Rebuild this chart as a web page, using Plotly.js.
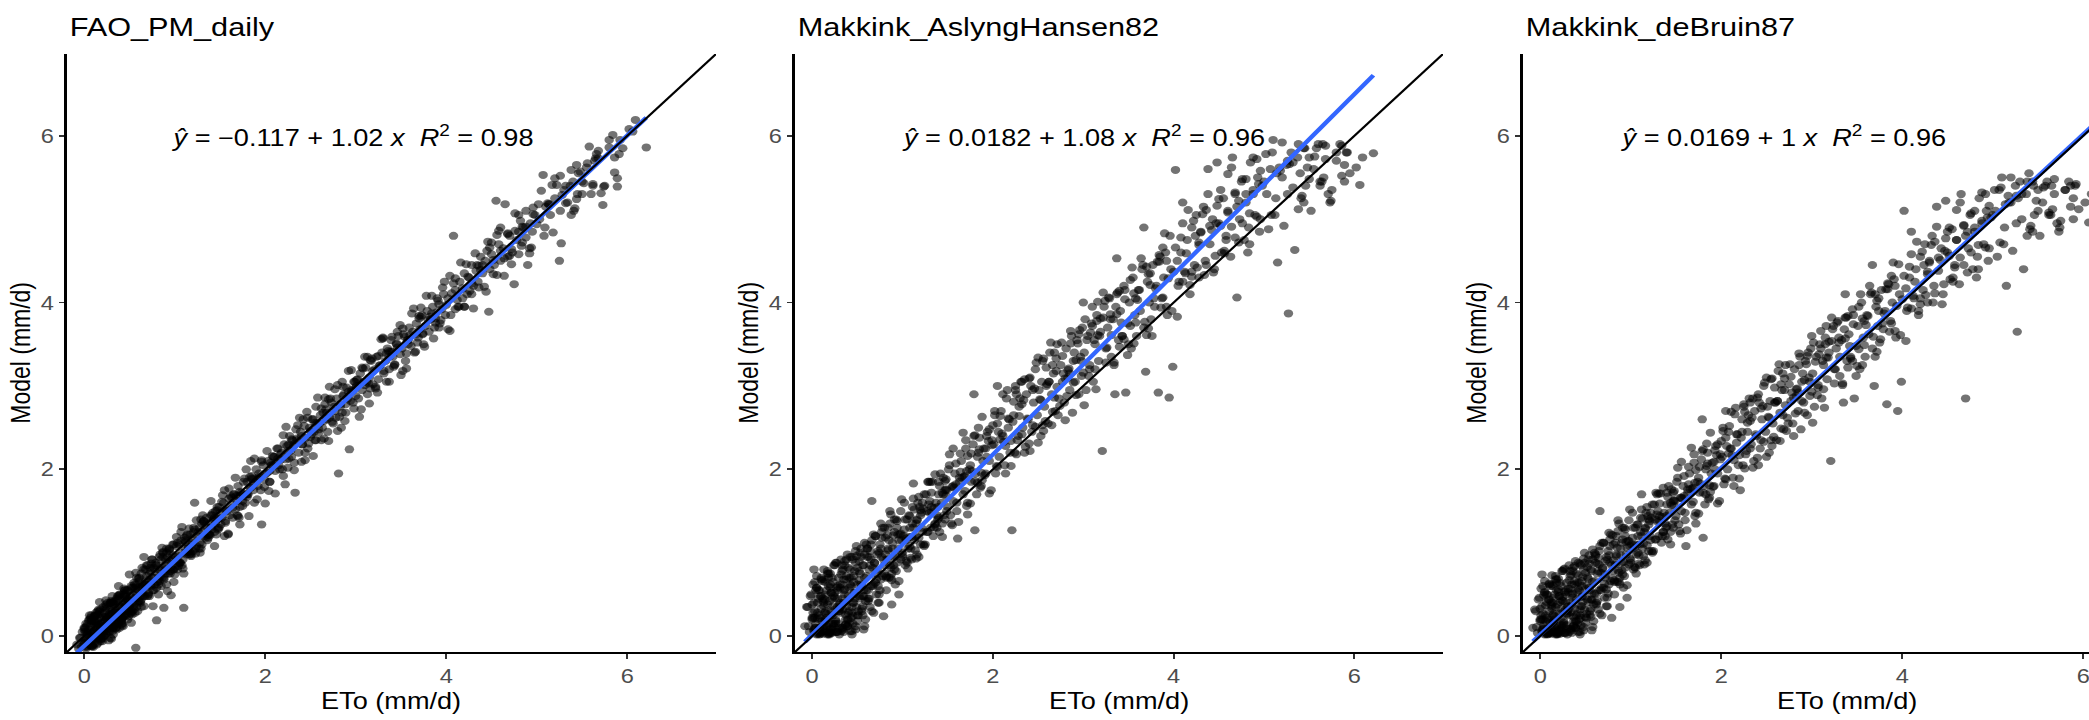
<!DOCTYPE html>
<html>
<head>
<meta charset="utf-8">
<script src="https://cdn.plot.ly/plotly-3.0.1.min.js"></script>
<style>
html,body{margin:0;padding:0;background:#fff;overflow:hidden;width:2089px;height:720px;}
#wrap{position:relative;width:2089px;height:720px;overflow:hidden;}
#chart{position:absolute;left:0;top:0;transform-origin:0 0;}
</style>
</head>
<body>
<div id="wrap"><div id="chart"></div></div>
<script>
// ---------------- data ----------------
const panelTitles = ["FAO_PM_daily", "Makkink_AslyngHansen82", "Makkink_deBruin87"];
const xAxisTitle = "ETo (mm/d)";
const yAxisTitle = "Model (mm/d)";
const xTicks = [0, 2, 4, 6];
const yTicks = [0, 2, 4, 6];

// reference ETo (x, shared by all panels)
const eto = [
-0.08,-0.05,-0.03,-0.02,0.00,0.01,0.02,0.03,0.04,0.05,
0.05,0.06,0.07,0.08,0.08,0.09,0.10,0.10,0.11,0.12,
0.12,0.13,0.13,0.14,0.15,0.15,0.16,0.17,0.17,0.18,
0.18,0.19,0.20,0.20,0.21,0.21,0.22,0.23,0.23,0.24,
0.25,0.25,0.26,0.27,0.27,0.28,0.29,0.29,0.30,0.31,
0.31,0.32,0.33,0.33,0.34,0.35,0.35,0.36,0.37,0.38,
0.38,0.39,0.40,0.40,0.41,0.42,0.43,0.43,0.44,0.45,
0.45,0.46,0.47,0.48,0.48,0.49,0.50,0.51,0.52,0.53,
0.06,0.11,0.16,0.19,0.22,0.26,0.28,0.32,0.34,0.36,
0.39,0.41,0.44,0.46,0.03,0.09,0.14,0.24,0.30,0.37,
0.54,0.55,0.56,0.57,0.58,0.59,0.60,0.61,0.62,0.63,
0.64,0.65,0.66,0.67,0.68,0.69,0.70,0.71,0.72,0.73,
0.74,0.75,0.76,0.77,0.78,0.79,0.80,0.81,0.82,0.83,
0.84,0.85,0.86,0.87,0.88,0.89,0.90,0.91,0.92,0.93,
0.94,0.95,0.96,0.97,0.98,0.99,0.57,0.66,0.74,0.88,
1.01,1.03,1.05,1.06,1.08,1.10,1.11,1.13,1.15,1.17,
1.18,1.20,1.22,1.24,1.25,1.27,1.29,1.31,1.32,1.34,
1.36,1.38,1.40,1.41,1.43,1.45,1.47,1.49,1.50,1.52,
1.54,1.56,1.58,1.60,1.61,1.63,1.65,1.67,1.69,1.70,
1.72,1.74,1.76,1.78,1.80,1.81,1.83,1.85,1.87,1.89,
1.90,1.92,1.94,1.96,1.98,1.99,1.04,1.12,1.21,1.30,
1.39,1.48,1.57,1.66,1.75,1.84,1.93,1.16,1.44,1.71,
2.01,2.03,2.05,2.07,2.09,2.11,2.13,2.15,2.17,2.19,
2.21,2.23,2.25,2.27,2.29,2.31,2.33,2.35,2.37,2.39,
2.41,2.43,2.45,2.47,2.49,2.51,2.53,2.55,2.57,2.59,
2.61,2.63,2.65,2.67,2.69,2.71,2.73,2.75,2.77,2.79,
2.81,2.83,2.85,2.87,2.89,2.91,2.93,2.95,2.97,2.99,
2.06,2.18,2.30,2.42,2.54,2.66,2.78,2.90,2.24,2.60,
3.01,3.03,3.05,3.07,3.09,3.11,3.13,3.15,3.17,3.19,
3.21,3.23,3.25,3.27,3.29,3.31,3.33,3.35,3.37,3.39,
3.41,3.43,3.45,3.47,3.49,3.51,3.53,3.55,3.57,3.59,
3.61,3.63,3.65,3.67,3.69,3.71,3.73,3.75,3.77,3.79,
3.81,3.83,3.85,3.87,3.89,3.91,3.93,3.95,3.97,3.99,
3.12,3.36,3.58,3.74,3.92,
4.02,4.05,4.08,4.10,4.13,4.15,4.18,4.20,4.23,4.25,
4.28,4.30,4.33,4.35,4.38,4.40,4.43,4.45,4.48,4.50,
4.53,4.55,4.58,4.60,4.63,4.65,4.68,4.70,4.73,4.75,
4.78,4.80,4.83,4.85,4.88,4.90,4.93,4.95,4.98,4.47,
5.03,5.07,5.10,5.15,5.20,5.25,5.27,5.30,5.34,5.37,
5.40,5.45,5.46,5.50,5.55,5.60,5.64,5.71,5.73,5.84,
5.89,5.91,6.06,6.09,6.21,
1.79,2.05,2.32,3.00,3.37,3.67,
0.02,0.04,0.07,0.09,0.11,0.13,0.15,0.16,0.18,0.20,
0.22,0.24,0.26,0.28,0.30,0.32,0.34,0.36,0.38,0.40,
0.42,0.44,0.46,0.48,0.50,0.52,0.54,0.56,0.58,0.60,
0.01,0.05,0.08,0.12,0.14,0.17,0.19,0.21,0.25,0.27,
0.29,0.33,0.35,0.39,0.41,0.43,0.47,0.49,0.51,0.55,
0.57,0.59,0.03,0.06,0.10,0.15,0.18,0.23,0.28,0.31,
0.34,0.37,0.42,0.45,0.50,0.53,0.56,0.58,-0.06,-0.04,
-0.01,0.00,0.02,0.08,0.13,0.20,0.26,0.35,0.44,0.52,
0.61,0.63,0.65,0.68,0.70,0.72,0.75,0.77,0.79,0.82,
0.84,0.86,0.89,0.91,0.93,0.96,0.98,1.00,1.02,1.05,
1.07,1.09,1.12,1.14,1.16,1.19,1.21,1.23,1.26,1.28,
1.30,1.33,1.35,1.37,1.40,1.42,1.44,1.47,1.49,0.62,
0.67,0.71,0.76,0.80,0.85,0.90,0.94,0.99,1.03,1.08,
1.13,1.18,1.22,1.27,1.32,1.36,1.41,1.46,0.64,0.73,
0.81,0.87,0.95,1.04,1.11,1.20,1.29,1.38,1.45,1.48,
1.51,1.53,1.56,1.59,1.62,1.64,1.67,1.69,1.72,1.75,
1.77,1.80,1.82,1.85,1.88,1.91,1.93,1.96,1.99,2.02,
2.04,2.08,2.12,2.16,2.20,2.22,2.26,2.28,2.32,2.36,
2.40,2.44,2.46,2.50,2.52,2.56,2.58,2.62,2.64,2.68,
2.70,2.72,2.76,2.80,2.82,2.86,2.88,2.92,2.94,2.98,
1.55,1.70,1.86,2.00,2.14,2.34,2.48,2.66,2.84,2.96,
3.02,3.06,3.10,3.14,3.18,3.22,3.26,3.30,3.34,3.38,
3.42,3.46,3.50,3.54,3.58,3.62,3.66,3.70,3.74,3.78,
3.82,3.86,3.90,3.94,3.98,4.02,4.06,4.10,4.14,4.18,
4.22,4.26,4.30,4.34,4.38,4.42,4.46,3.08,3.24,3.40,
3.56,3.72,3.88,4.04,4.20,4.36,3.16,3.52,3.84,4.28,
4.52,4.56,4.60,4.64,4.68,4.72,4.76,4.80,4.84,4.88,
4.92,4.96,5.00,5.05,5.09,5.13,5.18,5.22,5.28,5.32,
5.38,5.42,5.48,5.52,5.58,5.62,5.68,5.75,5.80,5.95,
4.58,4.70,4.82,4.94,5.12,5.26,5.44,5.66,5.86,6.02,
0.00,0.02,0.04,0.06,0.08,0.10,0.12,0.14,0.16,0.18,
0.20,0.22,0.24,0.26,0.28,0.30,0.32,0.34,0.36,0.38,
0.40,0.42,0.44,0.46,0.48,0.50,0.52,0.54,0.56,0.58,
0.60,0.62,0.64,0.66,0.68,0.70,0.72,0.74,0.76,0.78,
0.01,0.05,0.09,0.13,0.17,0.21,0.25,0.29,0.33,0.37,
0.41,0.45,0.49,0.53,0.57,0.61,0.65,0.69,0.73,0.77,
0.03,0.07,0.11,0.19,0.23,0.31,0.39,0.47,0.55,0.63,
0.80,0.82,0.84,0.86,0.88,0.90,0.92,0.94,0.96,0.98,
1.00,1.02,1.04,1.06,1.08,1.10,1.12,1.14,1.16,1.18,
1.20,1.24,1.28,1.32,1.36,1.40,1.44,1.48,1.52,1.56,
1.60,1.64,1.68,1.72,1.76,1.80,1.84,1.88,1.92,1.96,
0.83,0.91,0.99,1.07,1.15,1.23,1.31,1.39,1.47,1.55,
1.63,1.71,1.79,1.87,1.95,0.87,1.09,1.35,1.59,1.83,
2.02,2.05,2.08,2.11,2.14,2.17,2.20,2.23,2.26,2.29,
2.32,2.35,2.38,2.41,2.44,2.47,2.50,2.53,2.56,2.59,
2.62,2.65,2.68,2.71,2.74,2.77,2.80,2.83,2.86,2.89,
2.92,2.95,2.98,3.01,3.04,3.07,3.10,3.13,3.16,3.19,
3.22,3.25,3.28,3.31,3.34,3.37,3.40,3.43,3.46,3.49,
2.10,2.40,2.70,3.00,3.30,2.25,2.55,2.85,3.15,3.45,
3.52,3.56,3.60,3.64,3.68,3.72,3.76,3.80,3.84,3.88,
3.92,3.96,4.00,4.04,4.08,4.12,4.16,4.20,4.24,4.28,
4.32,4.36,4.40,4.44,4.48,4.52,4.56,4.60,4.64,4.68,
4.72,4.76,4.80,4.84,4.88,4.92,4.96,3.70,4.10,4.50,
5.02,5.08,5.14,5.20,5.26,5.32,5.38,5.44,5.50,5.56,
5.62,5.68,5.74,5.80,5.86,5.92,5.17,5.41,5.65,5.89
];

// model values (y) per panel
const faoPmDaily = [
-0.10,-0.02,-0.12,0.05,-0.08,0.10,-0.05,0.02,0.15,-0.06,
0.08,-0.10,0.12,0.00,0.20,-0.04,0.06,-0.13,0.18,0.03,
0.25,-0.02,0.10,0.07,0.30,-0.08,0.14,0.02,0.22,0.09,
-0.03,0.16,0.28,0.05,0.12,0.35,0.01,0.19,0.10,0.24,
0.08,0.33,0.15,-0.05,0.21,0.27,0.12,0.40,0.18,0.06,
0.30,0.22,0.14,0.38,0.25,0.10,0.32,0.45,0.20,0.28,
0.16,0.36,0.26,0.50,0.30,0.22,0.40,0.12,0.34,0.48,
0.26,0.38,0.30,0.55,0.20,0.42,0.35,0.28,0.58,0.40,
0.00,0.15,-0.02,0.26,0.05,0.18,0.32,0.02,0.42,0.08,
0.50,0.15,0.24,0.36,0.12,-0.11,0.20,0.03,0.27,0.44,
0.50,0.38,0.62,0.45,0.70,0.30,0.55,0.66,0.42,0.75,
0.52,0.60,0.80,0.48,0.58,0.72,0.85,0.50,0.65,0.78,
0.60,0.92,0.55,0.70,0.62,0.88,0.19,0.75,0.68,0.95,
0.72,0.60,0.82,1.00,0.70,0.85,0.78,0.62,0.95,0.88,
1.05,0.75,0.49,0.92,0.80,1.10,-0.14,0.95,0.66,0.34,
0.95,0.80,1.10,0.88,1.00,0.34,1.15,0.98,1.05,1.22,
1.00,1.12,1.60,1.08,1.20,1.30,1.05,1.25,1.38,1.18,
1.30,1.22,1.45,1.28,1.40,1.35,1.55,1.30,1.48,1.42,
1.60,1.38,1.50,1.65,1.45,1.58,1.70,1.52,1.62,1.80,
1.55,1.72,1.68,1.60,1.85,1.70,1.78,1.92,1.75,1.85,
2.00,1.80,1.90,1.34,2.05,1.88,0.88,1.05,1.25,1.10,
1.36,1.28,1.52,1.70,1.62,1.78,1.95,1.02,1.42,1.68,
1.95,2.10,1.85,2.05,2.15,1.98,2.25,2.05,2.18,2.00,
2.30,2.12,2.22,2.40,2.15,2.28,1.72,2.35,2.20,2.45,
2.30,2.52,2.38,2.25,2.50,2.42,2.60,2.35,2.55,2.48,
2.65,2.50,2.58,2.72,2.45,2.62,2.80,2.55,2.70,2.85,
1.95,2.75,2.68,2.90,2.78,2.85,2.24,2.95,2.80,3.05,
2.08,2.20,2.35,2.60,2.45,2.78,2.62,2.98,2.28,2.55,
3.00,2.85,3.15,2.95,3.05,3.22,2.90,3.10,3.30,3.02,
3.20,3.35,3.08,3.25,3.40,3.15,3.30,3.45,3.20,3.55,
3.35,3.25,3.50,3.60,3.38,3.45,3.62,3.30,3.55,3.70,
3.48,3.65,3.40,3.75,3.58,3.68,3.85,3.50,3.72,3.90,
3.65,3.80,3.95,3.70,3.88,4.02,3.75,3.92,4.10,3.85,
3.05,3.42,3.50,3.62,3.98,
4.05,3.85,4.80,4.15,3.95,4.25,4.05,4.35,4.10,4.30,
4.45,4.20,4.38,4.25,4.55,4.35,4.50,4.62,4.40,4.58,
4.45,5.22,4.70,4.50,4.65,5.18,4.55,4.80,4.60,4.22,
4.75,4.85,4.68,4.90,4.78,4.45,4.95,4.85,5.05,3.89,
5.00,5.53,5.15,5.05,5.25,4.50,4.71,5.35,5.20,5.40,
5.45,5.30,5.55,5.30,5.62,5.30,5.70,5.31,5.17,6.01,
5.39,5.78,6.05,6.19,5.86,
1.70,1.98,2.30,2.98,3.35,3.62,
0.15,-0.05,0.22,0.02,-0.09,0.28,0.08,-0.02,0.32,0.12,
0.00,0.38,0.20,0.05,0.42,0.10,0.35,0.18,0.48,0.22,
0.15,0.52,0.25,0.45,0.30,0.60,0.35,0.28,0.62,0.42,
0.05,-0.08,0.18,0.24,-0.04,0.30,0.02,0.15,0.36,0.06,
0.40,0.12,0.28,0.46,0.18,0.38,0.55,0.24,0.48,0.32,
0.56,0.40,-0.12,0.20,0.00,0.26,-0.06,0.34,0.10,0.40,
0.16,0.48,0.22,0.55,0.36,0.30,0.58,0.50,-0.15,-0.02,
-0.10,0.08,-0.13,0.25,0.12,-0.03,0.40,0.10,0.50,0.28,
0.70,0.35,0.62,0.80,0.48,0.75,0.92,0.55,0.85,0.62,
0.98,0.70,0.80,1.05,0.75,0.90,1.10,0.82,1.08,0.88,
1.15,0.92,1.00,1.22,0.98,1.10,1.30,1.05,1.25,1.12,
1.35,1.20,1.42,1.18,1.30,1.48,1.25,1.40,1.55,0.40,
0.62,0.52,0.70,0.58,0.92,0.75,1.02,0.80,1.12,0.85,
1.20,0.98,1.28,1.05,1.38,1.15,1.45,1.22,0.58,0.82,
0.65,0.95,0.78,0.84,1.18,1.02,1.40,1.22,1.50,1.30,
1.34,1.69,1.51,1.23,1.68,1.54,1.90,1.45,1.73,1.56,
1.89,1.67,1.44,1.89,2.13,1.64,1.91,2.11,1.79,1.96,
1.74,2.16,2.08,2.00,2.41,1.82,2.30,2.22,2.08,2.53,
2.40,2.11,2.69,2.39,2.60,2.35,2.86,2.35,2.68,2.60,
2.34,2.85,2.75,3.01,2.63,2.88,2.58,3.18,2.82,3.05,
1.75,1.44,1.88,1.59,2.13,2.48,2.31,2.86,2.50,2.94,
3.08,2.72,3.35,3.03,3.33,2.99,3.24,3.58,3.05,3.41,
3.23,3.65,3.13,3.59,3.55,3.87,3.41,3.81,3.63,4.08,
3.83,3.57,4.05,3.79,4.25,3.68,4.11,4.29,3.95,4.17,
4.46,4.14,3.93,4.45,4.39,4.19,4.73,3.21,2.92,3.41,
3.39,3.94,3.81,4.32,3.95,4.44,3.31,3.18,3.87,4.10,
4.34,4.81,4.62,4.32,4.83,4.64,5.07,4.58,4.91,5.10,
4.65,5.06,4.94,5.34,4.90,5.18,4.84,5.41,5.29,5.19,
5.59,5.13,5.57,5.43,5.87,5.40,5.73,5.40,5.95,5.85,
4.86,4.56,4.98,4.66,5.19,5.52,5.24,5.78,5.56,6.08,
0.10,-0.15,0.02,0.25,-0.12,0.04,0.19,-0.10,0.32,0.09,
-0.06,0.23,0.43,0.13,0.25,-0.03,0.41,0.27,0.15,0.60,
0.35,0.13,0.57,0.46,0.31,0.74,0.16,0.58,0.46,0.35,
0.69,0.48,0.82,0.36,0.67,0.62,0.48,0.87,0.36,0.80,
-0.07,0.19,-0.12,0.16,0.41,0.03,0.23,-0.02,0.39,0.28,
0.20,0.55,0.43,0.26,0.76,0.59,0.48,0.85,0.61,0.82,
0.04,-0.11,0.24,-0.03,0.14,0.48,0.10,0.43,0.64,0.44,
0.85,0.50,0.79,1.06,0.68,0.92,0.54,1.04,0.83,0.97,
0.74,1.19,0.96,0.88,1.31,0.75,1.13,1.01,1.29,0.96,
1.17,1.39,1.00,1.37,1.22,1.62,1.08,1.41,1.61,1.36,
1.77,1.42,1.68,1.34,1.85,1.70,2.10,1.60,1.88,2.09,
0.66,1.00,0.65,1.25,1.07,0.99,1.45,1.21,1.51,1.20,
1.66,1.42,2.00,1.82,1.75,1.01,0.81,1.33,1.22,1.91,
2.22,1.85,2.05,1.71,2.25,2.12,1.92,2.51,2.13,2.36,
1.99,2.37,2.62,2.30,2.20,2.62,2.46,2.16,2.75,2.44,
2.73,2.37,2.68,2.99,2.57,2.96,2.46,2.78,2.99,2.68,
2.93,3.19,2.73,3.07,2.63,3.22,3.01,3.35,2.97,3.18,
2.97,3.36,3.56,3.18,3.39,3.05,3.59,3.26,3.46,3.73,
2.15,2.09,2.84,2.88,3.57,2.02,2.56,3.05,2.79,3.51,
3.69,3.21,3.61,3.93,3.52,3.83,3.47,3.79,4.08,3.76,
3.70,4.18,3.97,3.66,4.23,4.03,4.48,3.95,4.31,4.23,
4.59,4.18,4.45,4.13,4.66,4.51,4.33,4.90,4.53,4.82,
4.46,4.86,5.05,4.72,4.91,4.59,5.14,3.84,3.92,4.72,
5.18,4.80,5.18,5.49,5.10,5.40,5.05,5.65,5.45,5.67,
5.42,5.82,5.39,5.86,5.74,5.95,5.41,5.10,5.73,5.49
];

const makkinkAH82 = [
0.12,0.35,0.05,0.48,0.20,0.62,0.08,0.30,0.15,0.72,
0.02,0.40,0.25,0.55,0.10,0.05,0.68,0.33,0.18,0.03,
0.45,0.12,0.80,0.28,0.06,0.50,0.22,0.38,0.02,0.60,
0.15,0.42,0.75,0.08,0.30,0.52,0.04,0.65,0.25,0.12,
0.46,0.85,0.20,0.05,0.58,0.35,0.15,0.70,0.02,0.40,
0.62,0.28,0.10,0.78,0.45,0.05,0.55,0.90,0.20,0.36,
0.68,0.12,0.48,0.82,0.30,0.06,0.60,0.22,0.95,0.40,
0.15,0.72,0.52,0.08,0.88,0.35,0.62,0.25,0.78,1.00,
0.28,0.10,0.55,0.04,0.70,0.18,0.45,0.06,0.32,0.85,
0.12,0.58,0.02,0.40,0.22,0.48,0.65,0.15,0.38,0.26,
0.62,0.30,0.85,0.55,0.98,0.20,0.72,1.05,0.45,0.80,
0.35,0.92,1.15,0.60,0.28,0.88,1.20,0.50,0.75,1.02,
0.40,1.10,0.68,0.95,1.30,0.24,0.85,1.18,0.55,0.92,
1.05,0.70,1.35,0.82,0.38,1.12,0.95,1.25,0.62,1.40,
0.88,1.05,0.50,1.22,0.92,1.15,0.48,1.62,1.00,0.75,
1.20,0.85,1.40,1.05,1.30,0.92,1.55,1.15,1.35,1.60,
0.95,1.45,1.25,1.70,1.10,1.50,1.85,1.30,1.55,1.20,
1.94,1.45,1.70,1.25,1.60,1.90,1.40,1.75,1.55,2.05,
1.35,1.80,1.95,1.60,1.17,1.85,2.10,1.70,1.92,2.25,
1.60,2.00,1.85,2.30,1.27,1.95,2.15,2.38,1.80,2.10,
2.25,1.95,2.45,2.10,1.75,2.35,1.15,1.30,1.48,1.62,
1.55,1.68,1.78,1.90,2.05,2.20,2.15,1.40,1.72,1.98,
2.30,1.95,2.55,2.15,2.70,2.40,2.05,2.85,2.50,2.20,
1.27,2.65,2.95,2.35,2.75,3.05,2.50,2.20,2.90,2.60,
3.10,2.45,2.80,3.20,2.65,2.95,2.40,3.30,2.75,3.00,
2.55,3.40,2.90,3.15,2.70,3.50,2.85,3.25,3.05,2.80,
3.45,3.10,2.95,3.60,3.30,3.05,3.55,2.90,3.35,3.70,
2.45,2.60,2.85,3.00,3.05,3.25,3.15,3.40,2.20,3.02,
3.40,2.95,3.60,3.20,3.75,3.05,3.50,3.85,3.30,3.65,
2.22,3.95,3.45,3.70,4.05,3.35,3.80,2.90,4.10,3.55,
3.90,3.60,4.20,2.92,3.75,4.00,3.45,4.30,3.85,3.60,
4.15,3.90,4.40,3.70,3.17,4.25,4.00,3.80,4.45,3.95,
4.20,2.92,4.55,4.05,4.30,4.60,3.85,2.86,4.40,3.23,
3.55,3.95,4.05,4.35,4.50,
5.59,4.20,4.60,5.20,4.35,4.75,4.10,4.90,4.45,5.05,
4.30,4.85,5.15,4.50,5.60,4.70,5.00,4.40,5.68,4.95,
4.60,5.25,4.80,5.10,4.55,5.74,5.30,4.06,5.00,5.45,
4.75,5.20,4.90,5.68,5.35,5.05,5.50,4.85,5.40,4.95,
5.30,5.60,5.95,4.48,5.50,5.65,3.87,5.80,4.63,5.74,
5.55,5.85,5.40,5.74,5.60,5.90,5.45,5.30,5.20,5.90,
5.65,5.80,5.41,5.74,5.79,
2.90,3.00,3.05,4.00,4.53,4.90,
0.40,0.10,0.55,0.22,0.05,0.68,0.30,0.12,0.75,0.04,
0.45,0.85,0.15,0.60,0.30,0.92,0.08,0.50,0.72,0.20,
0.95,0.35,0.65,0.12,0.82,0.48,1.05,0.25,0.70,0.55,
0.28,0.58,0.02,0.42,0.18,0.78,0.06,0.52,0.32,0.88,
0.10,0.62,0.40,0.98,0.15,0.70,0.45,1.08,0.30,0.60,
0.85,0.42,0.65,0.03,0.48,0.20,0.70,0.08,0.55,0.35,
0.80,0.14,0.62,0.92,0.25,0.75,0.48,1.12,0.35,0.12,
0.50,0.22,0.80,0.10,0.36,0.58,0.05,0.68,0.28,0.90,
0.95,0.45,1.10,0.62,1.20,0.80,0.55,1.25,0.92,0.70,
1.30,0.85,1.05,1.40,0.78,1.15,1.50,0.95,1.28,0.88,
1.45,1.05,1.65,1.20,0.98,1.55,1.30,1.10,1.70,1.25,
1.48,1.85,1.30,1.60,1.42,1.95,1.35,1.75,1.50,0.55,
0.82,0.68,1.05,0.75,1.15,0.85,1.30,1.00,1.40,1.08,
1.52,1.18,1.60,1.25,1.72,1.35,1.80,1.45,1.02,0.60,
0.98,0.70,1.22,0.90,1.35,1.10,1.58,1.30,1.70,1.88,
2.00,1.45,2.25,1.82,1.37,1.97,2.44,1.74,2.16,1.59,
1.98,2.41,1.70,2.24,2.63,1.93,2.40,1.71,2.29,2.70,
2.04,2.64,2.33,2.95,2.04,2.57,2.90,2.40,2.78,2.27,
3.09,2.53,2.97,2.32,2.84,3.33,2.58,3.05,3.52,2.86,
3.18,2.65,3.52,3.09,2.88,3.51,2.68,3.31,3.51,3.12,
1.79,2.35,1.78,2.53,2.28,2.83,3.28,2.69,3.21,3.67,
3.80,3.12,3.72,2.96,3.60,4.12,3.46,3.86,3.28,4.12,
3.76,4.15,3.50,4.42,3.76,4.15,4.45,3.61,4.21,4.05,
4.49,3.94,4.83,4.29,3.90,4.66,4.25,4.95,4.59,4.21,
4.98,4.42,4.84,4.33,5.30,4.87,4.56,3.64,4.02,3.47,
4.11,3.69,4.66,4.50,4.37,5.11,4.01,3.72,4.49,4.69,
5.35,4.62,5.08,5.62,4.78,5.22,4.95,5.48,4.70,5.30,
5.72,5.00,5.45,4.88,5.80,5.25,5.58,4.92,5.66,5.38,
5.90,5.28,5.62,5.10,5.85,5.45,5.72,5.35,5.80,5.55,
4.75,5.15,4.60,5.42,5.05,5.70,5.20,5.50,5.88,5.62,
0.38,0.06,0.55,0.21,0.04,0.70,0.12,0.44,0.27,0.03,
0.62,0.15,0.48,0.88,0.05,0.33,0.74,0.10,0.56,0.92,
0.28,0.80,0.06,0.52,1.02,0.18,0.67,0.95,0.36,0.12,
1.10,0.42,0.85,0.30,1.22,0.64,0.98,0.50,1.35,0.72,
0.22,0.58,0.03,0.40,0.75,0.09,0.52,0.30,0.85,0.14,
0.70,0.24,0.96,0.45,0.08,1.05,0.60,0.88,0.40,1.18,
0.10,0.45,0.66,0.02,0.36,0.58,0.20,0.78,0.33,0.95,
1.30,0.72,1.03,1.50,0.67,1.21,0.96,1.38,0.66,1.23,
0.98,1.60,1.17,0.81,1.44,1.19,1.83,1.03,1.39,1.67,
1.51,1.08,1.85,1.49,1.34,1.85,1.19,1.76,2.18,1.62,
1.50,2.19,1.91,1.46,2.19,1.86,2.50,1.87,2.25,2.48,
1.21,0.80,1.64,1.19,0.93,1.53,1.85,1.40,1.86,1.33,
1.90,1.56,2.40,1.96,2.34,1.46,0.94,1.54,2.07,1.84,
2.65,2.03,2.36,2.90,1.95,2.61,2.34,2.81,2.18,2.64,
2.42,3.08,2.61,2.22,2.95,2.51,3.34,2.83,2.46,3.22,
3.05,2.53,3.40,2.99,2.76,3.36,2.59,3.19,3.66,3.04,
2.89,3.62,3.30,2.77,3.55,3.25,3.95,3.20,3.61,3.81,
3.82,3.28,4.06,3.61,3.25,3.86,4.14,3.60,4.04,3.37,
2.43,2.31,3.33,3.16,3.80,3.00,2.53,3.15,3.78,3.56,
4.27,3.51,4.03,4.53,3.77,4.34,3.60,4.17,4.57,4.06,
3.95,4.80,4.37,3.83,4.78,4.37,5.11,4.31,4.80,4.72,
5.06,4.45,4.92,4.36,5.16,4.92,4.59,5.54,4.91,5.32,
4.72,5.48,5.30,5.07,5.74,5.03,5.58,4.43,4.25,5.24,
5.78,5.05,5.55,5.92,5.30,5.68,5.12,5.85,5.48,5.75,
5.40,5.88,5.22,5.70,5.52,5.80,5.62,5.25,5.90,5.45
];

const makkinkDB87 = [
0.10,0.30,0.04,0.44,0.18,0.57,0.07,0.27,0.13,0.66,
0.02,0.37,0.22,0.50,0.09,0.04,0.62,0.30,0.16,0.03,
0.41,0.10,0.73,0.25,0.05,0.46,0.20,0.35,0.02,0.55,
0.13,0.38,0.69,0.07,0.27,0.48,0.03,0.60,0.22,0.10,
0.42,0.78,0.18,0.04,0.53,0.32,0.13,0.64,0.02,0.36,
0.57,0.25,0.09,0.72,0.41,0.04,0.50,0.82,0.18,0.33,
0.62,0.10,0.44,0.75,0.27,0.05,0.55,0.20,0.87,0.36,
0.13,0.66,0.48,0.07,0.80,0.32,0.57,0.22,0.71,0.92,
0.25,0.09,0.50,0.03,0.64,0.16,0.41,0.05,0.29,0.78,
0.10,0.53,0.02,0.36,0.20,0.44,0.60,0.13,0.35,0.23,
0.58,0.26,0.80,0.50,0.92,0.18,0.66,0.98,0.40,0.75,
0.32,0.86,1.08,0.55,0.25,0.82,1.12,0.46,0.70,0.95,
0.36,1.02,0.62,0.88,1.22,0.22,0.78,1.10,0.50,0.86,
0.98,0.65,1.26,0.76,0.35,1.05,0.88,1.16,0.58,1.30,
0.82,0.98,0.46,1.14,0.86,1.08,0.44,1.50,0.92,0.70,
1.10,0.80,1.30,0.98,1.20,0.85,1.42,1.05,1.25,1.48,
0.88,1.34,1.15,1.58,1.02,1.40,1.70,1.20,1.44,1.12,
1.78,1.35,1.58,1.16,1.48,1.76,1.30,1.62,1.44,1.90,
1.26,1.66,1.80,1.48,1.08,1.72,1.95,1.58,1.78,2.08,
1.48,1.85,1.72,2.12,1.18,1.80,2.00,2.20,1.66,1.95,
2.08,1.80,2.28,1.95,1.62,2.18,1.06,1.20,1.38,1.50,
1.44,1.56,1.65,1.76,1.90,2.04,2.00,1.30,1.60,1.84,
2.15,1.82,2.38,2.00,2.52,2.25,1.90,2.66,2.32,2.05,
1.75,2.45,2.75,2.18,2.56,2.85,2.30,2.02,2.70,2.40,
2.90,2.25,2.60,3.00,2.45,2.75,2.20,3.08,2.55,2.80,
2.35,3.18,2.68,2.95,2.48,3.25,2.62,3.02,2.82,2.55,
3.20,2.88,2.70,3.35,3.05,2.80,3.30,2.65,3.10,3.45,
2.28,2.42,2.65,2.80,2.82,3.02,2.92,3.15,2.05,2.80,
3.15,2.75,3.35,2.98,3.50,2.85,3.25,3.58,3.08,3.40,
2.10,3.68,3.20,3.45,3.78,3.12,3.55,2.80,3.82,3.30,
3.62,3.35,3.92,2.85,3.48,3.72,3.20,4.00,3.58,3.35,
3.85,3.62,4.10,3.45,3.00,3.95,3.72,3.52,4.15,3.68,
3.90,2.78,4.22,3.78,4.00,4.28,3.58,2.70,4.10,3.05,
3.30,3.68,3.78,4.05,4.20,
5.10,3.90,4.30,4.85,4.05,4.40,3.85,4.55,4.15,4.70,
4.00,4.50,4.80,4.20,5.15,4.38,4.65,4.10,5.22,4.60,
4.28,4.88,4.45,4.75,4.22,5.30,4.92,2.85,4.65,5.05,
4.40,4.85,4.55,5.25,4.98,4.70,5.10,4.50,5.02,4.62,
5.10,5.35,5.50,4.20,5.20,5.40,3.65,5.45,4.40,5.30,
5.55,5.40,5.05,5.35,5.20,5.45,5.05,4.95,4.85,5.45,
5.25,5.40,4.96,5.30,5.35,
2.60,2.70,2.80,3.60,4.10,4.45,
0.36,0.09,0.50,0.20,0.04,0.62,0.27,0.11,0.68,0.04,
0.41,0.78,0.14,0.55,0.27,0.85,0.07,0.46,0.66,0.18,
0.88,0.32,0.60,0.11,0.76,0.44,0.97,0.23,0.65,0.51,
0.25,0.53,0.02,0.38,0.16,0.72,0.05,0.48,0.29,0.81,
0.09,0.57,0.37,0.90,0.14,0.64,0.41,1.00,0.27,0.55,
0.78,0.38,0.60,0.03,0.44,0.18,0.64,0.07,0.50,0.32,
0.74,0.13,0.57,0.85,0.23,0.69,0.44,1.04,0.32,0.11,
0.46,0.20,0.74,0.09,0.33,0.53,0.04,0.62,0.25,0.83,
0.88,0.42,1.02,0.58,1.12,0.74,0.51,1.16,0.85,0.65,
1.20,0.79,0.97,1.30,0.72,1.06,1.39,0.88,1.18,0.82,
1.34,0.97,1.52,1.11,0.91,1.44,1.20,1.02,1.58,1.16,
1.37,1.71,1.20,1.48,1.32,1.80,1.25,1.62,1.39,0.51,
0.76,0.63,0.97,0.69,1.06,0.79,1.20,0.93,1.30,1.00,
1.41,1.09,1.48,1.16,1.59,1.25,1.67,1.34,0.94,0.56,
0.91,0.65,1.13,0.83,1.25,1.02,1.46,1.20,1.57,1.74,
1.85,1.34,2.09,1.68,1.27,1.82,2.26,1.61,1.99,1.47,
1.83,2.24,1.58,2.07,2.44,1.79,2.23,1.59,2.12,2.50,
1.89,2.45,2.17,2.74,1.89,2.38,2.69,2.22,2.58,2.10,
2.86,2.35,2.76,2.15,2.63,3.09,2.39,2.82,3.26,2.65,
2.95,2.46,3.26,2.86,2.67,3.25,2.48,3.07,3.26,2.88,
1.66,2.18,1.64,2.34,2.11,2.62,3.04,2.49,2.97,3.40,
3.52,2.89,3.45,2.74,3.34,3.82,3.20,3.58,3.03,3.82,
3.48,3.85,3.24,4.10,3.49,3.84,4.12,3.35,3.90,3.75,
4.16,3.65,4.48,3.96,3.61,4.32,3.94,4.58,4.25,3.90,
4.61,4.09,4.48,4.00,4.91,4.51,4.22,3.38,3.72,3.22,
3.81,3.41,4.32,4.17,4.05,4.73,3.72,3.44,4.16,4.34,
4.90,4.30,4.75,5.20,4.45,4.85,4.60,5.10,4.40,4.95,
5.30,4.65,5.05,4.55,5.38,4.90,5.20,4.62,5.25,5.00,
5.45,4.92,5.22,4.80,5.40,5.08,5.30,4.98,5.35,5.12,
4.42,4.80,4.30,5.02,4.70,5.28,4.85,5.12,5.40,5.20,
0.33,0.05,0.49,0.18,0.03,0.63,0.10,0.40,0.24,0.03,
0.56,0.13,0.43,0.80,0.04,0.30,0.67,0.09,0.51,0.84,
0.25,0.73,0.05,0.47,0.93,0.16,0.61,0.87,0.33,0.11,
1.00,0.38,0.78,0.27,1.12,0.58,0.90,0.46,1.24,0.66,
0.20,0.52,0.03,0.36,0.68,0.08,0.47,0.27,0.78,0.12,
0.64,0.22,0.88,0.41,0.07,0.96,0.55,0.81,0.36,1.08,
0.09,0.41,0.60,0.02,0.33,0.53,0.18,0.71,0.30,0.87,
1.21,0.67,0.96,1.39,0.62,1.12,0.89,1.28,0.61,1.14,
0.91,1.48,1.09,0.75,1.34,1.10,1.70,0.96,1.29,1.55,
1.40,1.00,1.72,1.38,1.25,1.72,1.10,1.63,2.02,1.50,
1.39,2.03,1.77,1.35,2.03,1.72,2.31,1.73,2.09,2.30,
1.12,0.74,1.52,1.10,0.86,1.42,1.71,1.30,1.72,1.23,
1.76,1.44,2.22,1.81,2.17,1.35,0.87,1.43,1.92,1.70,
2.46,1.88,2.19,2.69,1.80,2.42,2.17,2.60,2.01,2.45,
2.25,2.85,2.42,2.05,2.73,2.33,3.10,2.62,2.28,2.98,
2.82,2.34,3.15,2.77,2.55,3.11,2.40,2.96,3.39,2.82,
2.68,3.36,3.05,2.56,3.29,3.01,3.66,2.96,3.34,3.53,
3.54,3.03,3.76,3.35,3.01,3.57,3.84,3.33,3.74,3.12,
2.25,2.14,3.09,2.93,3.52,2.78,2.35,2.92,3.50,3.30,
3.95,3.25,3.73,4.20,3.59,4.02,3.56,3.87,4.23,3.75,
3.66,4.46,4.04,3.54,4.43,4.08,4.73,3.98,4.45,4.37,
4.69,4.11,4.54,3.98,4.77,4.56,4.25,5.11,4.54,4.93,
4.36,5.07,4.90,4.69,5.32,4.66,5.16,4.10,3.93,4.85,
5.35,4.72,5.18,5.50,4.95,5.30,4.80,5.45,5.10,5.38,
5.05,5.48,4.90,5.35,5.15,5.42,5.28,4.88,5.40,5.00
];

// fitted linear models (from the equation labels)
const intercepts = [-0.117, 0.0182, 0.0169];
const slopes = [1.02, 1.08, 1];
const rSquared = [0.98, 0.96, 0.96];

// ---------------- layout constants ----------------
const S = 1.18;            // horizontal stretch of the original image
const W = 1845, H = 720;   // un-stretched plot size
const axLeft = [67, 795, 1523];     // final pixel x of each y-axis
const axRight = [716, 1443, 2172];  // final pixel x of each x-axis end
const plotTop = 54, plotBottom = 652;
const axRange = [-0.19, 6.98];
const eqX = [0.94, 0.96, 0.86];
const FONT = "Liberation Sans, Arial, Helvetica, sans-serif";

const chartDiv = document.getElementById('chart');
chartDiv.style.width = W + 'px';
chartDiv.style.height = H + 'px';
chartDiv.style.transform = 'scale(' + S + ',1)';

const px = v => v / S / W;
const py = v => 1 - v / H;

const models = [faoPmDaily, makkinkAH82, makkinkDB87];
const xMin = Math.min(...eto), xMax = Math.max(...eto);
const fmt = n => (n < 0 ? '\u2212' + Math.abs(n) : String(n));

const traces = [];
const layout = {
  width: W, height: H,
  margin: {l: 0, r: 0, t: 0, b: 0, pad: 0},
  paper_bgcolor: '#fff', plot_bgcolor: '#fff',
  showlegend: false,
  font: {family: FONT, color: '#000'},
  annotations: []
};

for (let i = 0; i < 3; i++) {
  const sfx = i === 0 ? '' : String(i + 1);
  const xa = 'x' + sfx, ya = 'y' + sfx;

  traces.push({
    type: 'scatter', mode: 'markers', x: eto, y: models[i],
    xaxis: xa, yaxis: ya,
    marker: {color: 'rgba(0,0,0,0.55)', size: 8, line: {width: 0}},
    hoverinfo: 'skip'
  });
  const fx = [xMin, xMax];
  traces.push({
    type: 'scatter', mode: 'lines', x: fx,
    y: fx.map(v => intercepts[i] + slopes[i] * v),
    xaxis: xa, yaxis: ya,
    line: {color: '#3366FF', width: 4}, hoverinfo: 'skip'
  });
  const ax = [axRange[0] - 1, axRange[1] + 1];
  traces.push({
    type: 'scatter', mode: 'lines', x: ax, y: ax,
    xaxis: xa, yaxis: ya,
    line: {color: '#000', width: 2}, hoverinfo: 'skip'
  });

  const common = {
    range: axRange, showgrid: false, zeroline: false,
    showline: true, linecolor: '#000', linewidth: 2.2,
    ticks: 'outside', ticklen: 5, tickwidth: 1.8, tickcolor: '#333',
    tickfont: {family: FONT, size: 20, color: '#4D4D4D'},
    automargin: false, fixedrange: true
  };
  layout['xaxis' + sfx] = Object.assign({}, common, {
    domain: [px(axLeft[i]), px(axRight[i])], anchor: ya,
    tickvals: xTicks, ticktext: xTicks.map(String)
  });
  layout['yaxis' + sfx] = Object.assign({}, common, {
    domain: [py(plotBottom), py(plotTop)], anchor: xa,
    tickvals: yTicks, ticktext: yTicks.map(String)
  });

  // panel title
  layout.annotations.push({
    xref: 'paper', yref: 'paper', x: px(axLeft[i]), y: py(27),
    xanchor: 'left', yanchor: 'middle', showarrow: false,
    text: panelTitles[i], font: {family: FONT, size: 26, color: '#000'}
  });
  // x axis title
  layout.annotations.push({
    xref: 'paper', yref: 'paper', x: px((axLeft[i] + axRight[i]) / 2), y: py(701),
    xanchor: 'center', yanchor: 'middle', showarrow: false,
    text: xAxisTitle, font: {family: FONT, size: 23, color: '#000'}
  });
  // y axis title
  layout.annotations.push({
    xref: 'paper', yref: 'paper', x: px(axLeft[i] - 46), y: py((plotTop + plotBottom) / 2),
    xanchor: 'center', yanchor: 'middle', showarrow: false, textangle: -90,
    text: yAxisTitle, font: {family: FONT, size: 23, color: '#000'}
  });
  // regression equation
  layout.annotations.push({
    xref: xa, yref: ya, x: eqX[i], y: 6,
    xanchor: 'left', yanchor: 'middle', showarrow: false,
    text: '<i>\u0177</i> = ' + fmt(intercepts[i]) + ' + ' + slopes[i] + ' <i>x</i>\u00a0\u00a0<i>R</i><sup>2</sup> = ' + rSquared[i].toFixed(2),
    font: {family: FONT, size: 23, color: '#000'}
  });
}

Plotly.newPlot(chartDiv, traces, layout, {staticPlot: true, displayModeBar: false}).then(function () {
  // drop the empty placeholder <text> nodes Plotly keeps for unused axis titles
  chartDiv.querySelectorAll('text').forEach(function (t) {
    if (!t.textContent.trim()) t.parentNode.removeChild(t);
  });
});
</script>
</body>
</html>
